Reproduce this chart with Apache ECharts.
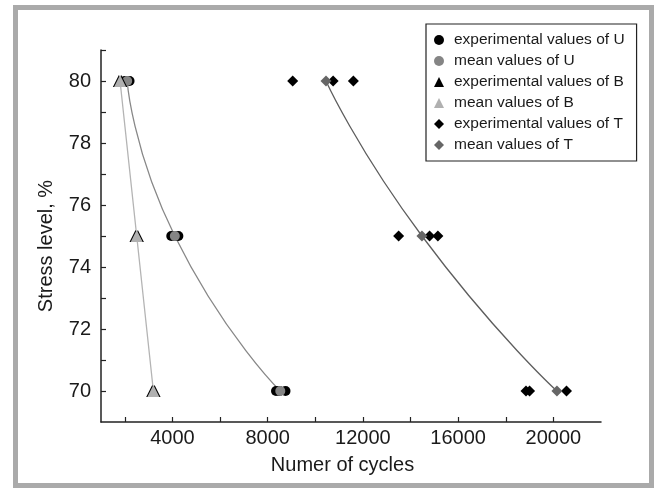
<!DOCTYPE html>
<html>
<head>
<meta charset="utf-8">
<script src="https://cdn.jsdelivr.net/npm/echarts@6/dist/echarts.min.js"></script>
<style>
  html, body { margin: 0; padding: 0; background: #fff; }
  #chart { width: 654px; height: 488px; }
</style>
</head>
<body>
<div id="chart"></div>
<script>
// stress levels, %
const levels = [80, 75, 70]

// cycles to failure
const expU = [[2000, 2100, 2200], [3950, 4100, 4250], [8350, 8500, 8750]]
const meanU = [2100, 4100, 8530]
const expB = [[1750, 1850], [2450, 2550], [3150, 3250]]
const meanB = [1800, 2500, 3200]
const expT = [[9050, 10750, 11600], [13500, 14800, 15150], [18850, 19000, 20550]]
const meanT = [10450, 14480, 20150]

const xTickValues = [2000, 4000, 6000, 8000, 10000, 12000, 14000, 16000, 18000, 20000]
const xLabelValues = [4000, 8000, 12000, 16000, 20000]
const yTickValues = [70, 71, 72, 73, 74, 75, 76, 77, 78, 79, 80, 81]
const yLabelValues = [70, 72, 74, 76, 78, 80]

const font = 'Liberation Sans, Arial, sans-serif'

function pairs(rows) {
  const out = []
  rows.forEach((row, i) => row.forEach(v => out.push([v, levels[i]])))
  return out
}
function meanPairs(arr) {
  return arr.map((v, i) => [v, levels[i]])
}

function scatter(name, data, symbol, size, color) {
  return {
    name: name,
    type: 'scatter',
    symbol: symbol,
    symbolSize: size,
    itemStyle: { color: color, opacity: 1 },
    data: data,
    z: 3
  }
}
function curve(data, color) {
  return {
    type: 'line',
    data: data,
    smooth: 0.6,
    showSymbol: false,
    symbol: 'none',
    lineStyle: { color: color, width: 1.3 },
    silent: true,
    z: 2
  }
}

const chart = echarts.init(document.getElementById('chart'))
chart.setOption({
  animation: false,
  backgroundColor: '#fff',
  graphic: [{
    type: 'rect',
    shape: { x: 15.5, y: 7.5, width: 636, height: 478 },
    style: { fill: 'none', stroke: '#aaaaaa', lineWidth: 5 },
    silent: true
  }],
  grid: { left: 101, right: 53, top: 50, bottom: 66 },
  legend: {
    orient: 'vertical',
    left: 426,
    top: 24,
    padding: [8, 12, 8, 8],
    borderColor: '#222',
    borderWidth: 1.2,
    itemWidth: 10,
    itemHeight: 10,
    itemGap: 5,
    textStyle: { fontFamily: font, fontSize: 15.5, lineHeight: 16, color: '#1a1a1a', padding: [0, 0, 0, 5] },
    data: ['experimental values of U', 'mean values of U', 'experimental values of B',
      'mean values of B', 'experimental values of T', 'mean values of T']
  },
  xAxis: {
    type: 'value',
    min: 1000,
    max: 22000,
    name: 'Numer of cycles',
    nameLocation: 'middle',
    nameGap: 33,
    nameTextStyle: { fontFamily: font, fontSize: 20, color: '#1a1a1a', padding: [0, 17, 0, 0] },
    axisLine: { show: true, lineStyle: { color: '#222', width: 1.5 } },
    axisTick: { show: true, inside: true, length: 5, customValues: xTickValues, lineStyle: { color: '#222', width: 1.2 } },
    axisLabel: { customValues: xLabelValues, formatter: v => String(v), fontFamily: font, fontSize: 20, color: '#1a1a1a', margin: 6 },
    splitLine: { show: false }
  },
  yAxis: {
    type: 'value',
    min: 69,
    max: 81,
    name: 'Stress level, %',
    nameLocation: 'middle',
    nameGap: 45,
    nameRotate: 90,
    nameTextStyle: { fontFamily: font, fontSize: 20, color: '#1a1a1a', padding: [0, 20, 0, 0] },
    axisLine: { show: true, lineStyle: { color: '#222', width: 1.5 } },
    axisTick: { show: true, inside: true, length: 5, customValues: yTickValues, lineStyle: { color: '#222', width: 1.2 } },
    axisLabel: { customValues: yLabelValues, fontFamily: font, fontSize: 20, color: '#1a1a1a', margin: 10 },
    splitLine: { show: false }
  },
  series: [
    curve(meanPairs(meanB), '#b4b4b4'),
    curve(meanPairs(meanU), '#888888'),
    curve(meanPairs(meanT), '#5e5e5e'),
    scatter('experimental values of U', pairs(expU), 'circle', 10, '#000'),
    scatter('mean values of U', meanPairs(meanU), 'circle', 10, '#858585'),
    scatter('experimental values of B', pairs(expB), 'triangle', 12, '#000'),
    scatter('mean values of B', meanPairs(meanB), 'triangle', 12, '#b0b0b0'),
    scatter('experimental values of T', pairs(expT), 'diamond', 11, '#000'),
    scatter('mean values of T', meanPairs(meanT), 'diamond', 11, '#666666')
  ]
})
</script>
</body>
</html>
